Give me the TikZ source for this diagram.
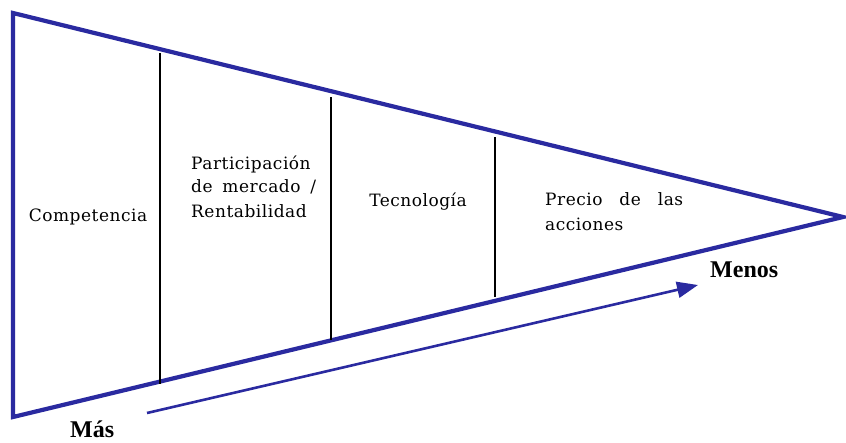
\documentclass[tikz,border=0pt]{standalone}
\usepackage{fontspec}
\setmainfont{Liberation Serif}
\newfontfamily\lblfont{DejaVu Serif}[LetterSpace=3]
\usetikzlibrary{arrows.meta}
\definecolor{funnelblue}{RGB}{42,42,160}
\tikzset{
  funnel/.style={draw=funnelblue, line width=4.2pt, line join=miter},
  divider/.style={draw=black, line width=2.4pt},
  lbl/.style={inner sep=0pt, font=\lblfont\fontsize{17}{24}\selectfont},
  biglbl/.style={inner sep=0pt, font=\fontsize{24}{28}\selectfont\bfseries},
  trend/.style={draw=funnelblue, line width=2.6pt, -{Triangle[length=21pt,width=16pt]}}
}
\begin{document}
\begin{tikzpicture}[x=1pt,y=-1pt]
\useasboundingbox (0,0) rectangle (846,442);
% funnel outline
\coordinate (tl) at (13,13);
\coordinate (bl) at (13,417);
\coordinate (tip) at (843,217);
\draw[funnel] (tip) -- (tl) -- (bl) -- cycle;
% dividers
\coordinate (d1t) at (160,53);  \coordinate (d1b) at (160,384);
\coordinate (d2t) at (331,97);  \coordinate (d2b) at (331,340);
\coordinate (d3t) at (495,137); \coordinate (d3b) at (495,297);
\draw[divider] (d1t) -- (d1b);
\draw[divider] (d2t) -- (d2b);
\draw[divider] (d3t) -- (d3b);
% labels
\node[lbl, anchor=base] (comp) at (88,221) {Competencia};
\node[lbl, anchor=base west] (part1) at (191,169) {Participación};
\node[lbl, anchor=base west] (part2) at (191,192) {\makebox[125pt][s]{de mercado /}};
\node[lbl, anchor=base west] (part3) at (191,217) {Rentabilidad};
\node[lbl, anchor=base] (tec) at (418,206) {Tecnología};
\node[lbl, anchor=base west] (prec1) at (545,205) {\makebox[138pt][s]{Precio de las}};
\node[lbl, anchor=base west] (prec2) at (545,230) {acciones};
\node[biglbl, anchor=base west] (menos) at (710,277) {Menos};
\node[biglbl, anchor=base west] (mas) at (70,437) {Más};
% trend arrow
\coordinate (as) at (147,413);
\coordinate (ae) at (698,285);
\draw[trend] (as) -- (ae);
\end{tikzpicture}
\end{document}
